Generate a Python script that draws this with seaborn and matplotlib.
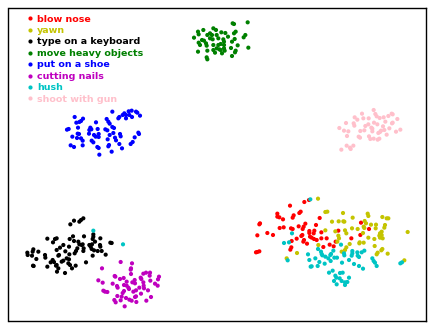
import numpy as np
import pandas as pd
import matplotlib
matplotlib.use('Agg')
import matplotlib.pyplot as plt
import seaborn as sns

# points, in units of 1/3 pixel
red_x = [913,927,870,902,898,832,832,838,849,881,878,780,778,959,948,916,911,908,896,873,878,851,839,802,819,772,928,943,928,941,964,907,904,890,875,912,910,921,930,935,942,950,964,980,970,989,1001,1007,1015,1054,1081,1083,1107,874,871,778,772,768]
red_y = [606,600,617,635,639,641,650,652,658,646,653,670,673,654,675,671,680,687,679,685,687,682,684,699,705,706,693,692,699,700,697,705,708,716,723,720,725,731,710,713,717,720,715,715,741,734,739,725,692,715,705,668,687,742,749,754,756,757]

yellow_x = [954,976,982,1029,1058,1103,1105,1147,1160,1165,996,1016,1030,1033,1094,1098,1113,1128,1091,1093,1056,1073,1127,1155,1153,1006,1035,1039,976,1089,1140,1145,1138,1145,1148,1140,1015,1017,1105,1123,1223,1012,1049,1079,1091,1078,955,1124,1039,1035,1025,1147,1144,1133,1130,1163,891,860,1213]
yellow_y = [596,636,635,639,653,641,648,651,655,655,665,664,664,665,663,670,674,674,680,684,685,687,685,675,683,694,691,700,691,699,700,695,707,705,715,713,707,715,713,717,696,725,732,727,728,730,735,738,742,750,755,747,751,758,763,761,759,775,781]

black_x = [250,243,238,222,211,280,280,278,142,165,170,159,209,219,222,252,301,285,331,335,235,238,245,232,228,224,248,251,250,268,276,272,275,282,293,305,300,301,317,278,190,180,170,207,196,208,177,175,135,136,115,100,98,82,83,96,109,99,101,142,152,158,162,170,168,175,171,195,185,190,200,207,205,210,216,227,258]
black_y = [655,660,665,662,673,703,710,717,716,717,715,727,717,709,723,709,715,725,728,729,725,733,735,745,753,760,733,745,753,735,733,740,747,751,753,753,735,740,764,767,735,743,750,740,754,763,765,767,765,773,755,748,755,758,765,767,777,797,798,800,787,780,786,795,797,805,815,819,785,782,775,778,790,795,805,797,787]

green_x = [582,594,596,610,606,612,596,600,618,620,594,622,620,622,640,648,630,622,636,630,638,650,655,640,655,640,645,650,658,698,702,743,664,676,707,702,684,670,704,696,736,731,713,693,745,707,705,696,662,672,672,672,674,666,662]
green_y = [113,95,103,90,120,122,128,135,130,137,155,152,172,178,85,90,100,105,105,115,118,105,115,135,135,150,158,145,148,70,72,67,97,99,95,100,110,118,117,125,105,112,136,144,143,152,157,168,132,125,135,145,152,160,150]

blue_x = [337,224,249,243,229,238,288,320,325,329,234,206,201,271,268,274,293,316,322,337,342,233,237,267,282,287,296,296,340,329,323,360,362,217,231,243,248,275,280,345,348,358,404,415,417,398,392,212,222,248,292,296,327,325,366,335,298,355,358,368,373,378,386,395,388,396,378,408,412,420]
blue_y = [335,351,356,363,368,366,367,357,365,371,383,387,389,383,390,388,387,388,391,381,384,401,402,401,405,410,402,411,399,405,418,402,409,410,414,415,422,422,427,413,421,432,412,398,402,426,432,436,441,436,441,444,435,439,445,455,464,355,351,345,340,345,334,332,345,351,355,335,338,347]

magenta_x = [306,362,396,393,392,393,344,346,371,360,295,308,338,351,353,380,372,380,404,397,405,422,424,430,438,450,449,477,474,451,430,431,432,465,473,418,408,400,385,387,372,368,352,365,362,310,315,322,343,347,378,388,395,408,405,423,444,453,439,409,374]
magenta_y = [805,786,790,805,809,822,828,830,834,837,841,848,851,858,863,845,855,857,840,847,850,833,837,821,818,818,827,830,838,842,847,857,865,851,857,863,871,875,863,867,873,879,888,890,901,872,875,876,900,907,894,899,902,889,891,881,871,891,902,906,919]

cyan_x = [280,369,931,876,852,867,954,1023,1000,993,991,963,965,967,924,946,928,958,932,935,953,974,976,985,992,1003,1011,1026,1032,1033,1047,1057,1057,1055,1072,1073,1077,1085,1093,1062,1077,1089,1117,1121,1125,1130,1201,1206,863,987,998,1020,1028,1006,1009,1002,1019,1025,1047,1035,1042,1010,1035]
cyan_y = [692,733,598,700,729,727,747,734,752,762,765,755,762,766,763,775,780,786,800,799,798,791,770,775,783,773,773,788,760,766,780,753,760,767,757,767,771,757,752,792,798,806,775,783,788,798,790,787,781,818,812,819,818,827,833,843,835,843,833,847,846,853,855]

pink_x = [1018,1032,1045,1038,1041,1024,1040,1050,1052,1060,1064,1072,1061,1063,1086,1090,1106,1121,1126,1130,1139,1151,1165,1175,1178,1192,1156,1178,1176,1122,1132,1105,1096,1149,1168,1201,1188,1081,1093,1114,1117,1117,1143,1153,1135,1140,1160,1076,1080,1107,1111,1121,1133,1138]
pink_y = [384,392,394,369,408,449,437,443,447,437,352,359,370,377,341,355,355,330,342,349,354,352,348,341,343,357,365,368,370,368,373,373,378,379,385,389,395,393,391,383,386,394,392,390,399,396,404,410,413,409,417,416,419,416]

labels = ['blow nose', 'yawn', 'type on a keyboard', 'move heavy objects',
          'put on a shoe', 'cutting nails', 'hush', 'shoot with gun']
colors = ['r', '#c4c400', 'k', 'g', 'b', 'm', '#00c4c4', 'pink']
xs = [red_x, yellow_x, black_x, green_x, blue_x, magenta_x, cyan_x, pink_x]
ys = [red_y, yellow_y, black_y, green_y, blue_y, magenta_y, cyan_y, pink_y]

df = pd.DataFrame({
    'x': np.concatenate(xs),
    'y': np.concatenate(ys),
    'action': np.repeat(labels, [len(v) for v in xs]),
})

fig = plt.figure(figsize=(4.35, 3.29), dpi=100)
ax = fig.add_axes([8.5 / 435, 1 - 320.5 / 329, 418 / 435, 312.5 / 329])

sns.scatterplot(data=df, x='x', y='y', hue='action', hue_order=labels,
                palette=colors, s=9, linewidth=0, ax=ax)

ax.set_xlim(25.5, 1279.5)
ax.set_ylim(961.5, 24)
ax.set_xticks([])
ax.set_yticks([])
ax.set_xlabel('')
ax.set_ylabel('')
for spine in ax.spines.values():
    spine.set_linewidth(1.0)
    spine.set_color('black')

leg = ax.legend(loc='upper left', bbox_to_anchor=(0.035, 0.979), frameon=False,
                prop={'weight': 'bold', 'size': 6.8}, labelspacing=0.26,
                handlelength=1.45, handletextpad=0.0, borderpad=0,
                borderaxespad=0, labelcolor=colors)
for text, color in zip(leg.get_texts(), colors):
    text.set_color(color)

fig.savefig('out.png', dpi=100)
